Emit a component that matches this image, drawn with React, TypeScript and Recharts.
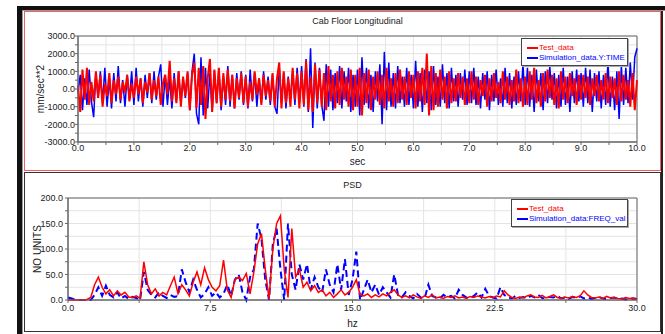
import React from 'react';
import { LineChart, Line, XAxis, YAxis, CartesianGrid, ReferenceArea } from 'recharts';

// ---------- Data ----------
const TIME_STEP = 0.04; // sample spacing of the time records (sec)

const TEST_TIME = [
  200, -1300, 1100, -600, 1200, -900, 400, -700, 1000, -500, 800, -1000, 300, -400, 900, -800, 500, -300, 700, -600, 400, -200, 800, -700, 300,
  -500, 700, -300, 600, -800, 400, -200, 900, -600, 500, -400, 700, -900, 300, 800, -300, 1600, -700, 600, -800, 1000, -1000, 700, -400, 1000,
  -1200, 800, 1500, -1100, 1200, -900, 1300, -1700, 600, 1700, -1300, 1100, -800, 1200, -1000, 900, -600, 1100, -700, 800, -1100, 600, -500, 900, -800,
  700, -1000, 400, -600, 1000, -300, 600, -900, 800, -400, 500, -700, 900, -1000, 600, 1500, -1100, 1000, -800, 600, -1000, 1200, -600, 900, -1100,
  1000, -900, 1600, -1200, 700, -1300, 1400, -800, 1100, -1000, 900, -1200, 1300, -700, 800, -1100, 1000, -900, 1200, -600, 700, -1000, 1100, -1200, 800,
  -1000, 1200, -1500, 900, -800, 1100, -1200, 700, -600, 1000, -900, 800, -1100, 1200, -700, 600, -1000, 900, -800, 1100, -600, 700, -900, 1000, -500,
  800, -1100, 1000, -700, 1200, -900, 2000, -1500, 1300, -1200, 900, -1000, 1100, -600, 700, -1100, 1000, -800, 600, -700, 900, -500, 700, -900, 600,
  -800, 1000, -600, 700, -900, 500, -400, 800, -1000, 600, -700, 900, -500, 400, -800, 1000, -600, 700, -900, 500, -700, 1100, -800, 600, -1000,
  700, -900, 1000, -600, 1200, -800, 500, -1000, 900, -700, 1100, -500, 800, -900, 600, -1100, 1000, -600, 700, -800, 900, -400, 600, -900, 800,
  -600, 800, -500, 700, -900, 600, -400, 800, -700, 500, -600, 900, -800, 700, -500, 600, -900, 1000, -700, 800, -600, 500, -1000, 900, -1200,
  500,
];

const SIM_TIME = [
  -200, 800, -1200, 600, -900, 1100, -700, -1600, 900, -500, 1000, -800, 1200, -1000, 600, -1100, 900, -700, 1300, -800, 500, -1000, 800, -600, 1000,
  -900, 1200, -700, 600, -1000, 800, -500, 900, -800, 1000, -600, 700, 1400, -1000, 800, -900, 600, -1100, 900, -700, 1000, -800, 600, -500, 900,
  -1200, 1000, 2000, -1400, -2000, 1800, -1500, 1200, -1100, 900, -1300, 1000, -800, 1100, -1200, 700, -900, 1300, -1000, 800, -1100, 900, -600, 1000, -900,
  800, -1100, 1100, -700, 900, -1000, 600, -800, 1000, -600, 700, -900, 800, -1000, -1400, 1200, -800, 900, -1100, 700, -600, 1000, -900, 1200, -800,
  1300, -1000, 1700, -1300, 2300, -2200, 1500, -1100, 1200, -900, -1800, 1400, -1000, 1100, -1200, 900, -800, 1300, -1100, 1000, -700, 1200, -1300, 800, -1000,
  1100, -1500, 1800, -900, 1200, -1100, 800, -1300, 1000, -700, 1400, -2000, 2100, -1200, 1500, -1000, 900, -1100, 1300, -800, 700, -1000, 1200, -900, 800,
  -1100, 1600, -1000, 900, -1300, 1100, -800, 1000, -1200, 1300, -900, 700, -1000, 1400, -800, 900, -1100, 1200, -700, 800, -1000, 900, -600, 1100, -900,
  1000, -800, 1200, -900, 700, -1100, 900, -600, 1000, -1200, 800, -700, 1100, -900, 600, -1000, 1200, -800, 900, -1100, 700, -900, 1000, -700, 1400,
  -900, 1200, -1000, 800, -1300, 1100, -700, 900, -1200, 1000, -800, 1300, -600, 900, -1100, 800, -1000, 1200, -900, 700, -1300, 1000, -800, 1100, -700,
  900, -1000, 1200, -800, 1100, -1300, 900, -700, 1000, -1100, 800, -900, 1500, -1000, 700, -1200, 1000, -1700, 1300, -900, 1200, -800, 1500, -600, 1800,
  2300,
];

const FREQ_STEP = 0.2; // spectral line spacing (hz)

const PSD_TEST = [
  0, 0, 0, 0, 0, 1, 5, 30, 45, 25,
  12, 20, 8, 18, 10, 15, 6, 5, 8, 3,
  75, 30, 12, 22, 8, 15, 10, 28, 45, 12,
  30, 20, 8, 35, 55, 30, 63, 40, 25, 18,
  28, 78, 20, 5, 40, 45, 38, 52, 12, 55,
  110, 130, 60, 2, 100, 150, 165, 60, 5, 140,
  45, 60, 25, 35, 18, 28, 15, 20, 8, 15,
  5, 12, 20, 10, 15, 25, 40, 10, 8, 12,
  5, 10, 6, 12, 8, 15, 20, 10, 5, 8,
  4, 10, 6, 3, 8, 5, 10, 4, 6, 3,
  7, 5, 8, 4, 6, 3, 7, 5, 8, 6,
  4, 7, 5, 8, 6, 18, 10, 5, 3, 6,
  4, 8, 10, 6, 5, 9, 4, 7, 10, 5,
  3, 6, 4, 7, 5, 8, 18, 10, 5, 4,
  6, 3, 7, 4, 5, 3, 2, 5, 3, 4,
  2,
];

const PSD_SIM = [
  5, 3, 0, 0, 0, 0, 0, 10, 25, 8,
  28, 10, 5, 15, 3, 8, 2, 6, 4, 0,
  55, 20, 10, 5, 15, 8, 4, 10, 6, 8,
  60, 35, 15, 40, 20, 5, 12, 25, 8, 15,
  5, 12, 30, 8, 40, 50, 15, 0, 45, 60,
  150, 120, 40, 0, 110, 140, 60, 0, 150, 50,
  20, 70, 40, 70, 20, 45, 25, 15, 60, 30,
  15, 70, 20, 80, 10, 40, 95, 0, 20, 40,
  15, 30, 10, 25, 15, 5, 50, 10, 5, 15,
  8, 3, 12, 5, 3, 30, 8, 5, 3, 10,
  5, 8, 3, 20, 10, 5, 3, 8, 15, 5,
  22, 8, 5, 3, 25, 10, 5, 3, 8, 4,
  6, 3, 8, 5, 10, 4, 3, 6, 5, 8,
  3, 5, 2, 6, 4, 7, 3, 5, 2, 4,
  6, 3, 2, 4, 5, 2, 3, 1, 2, 3,
  2,
];

const TIME_X_TICKS = [0, 0.5, 1, 1.5, 2, 2.5, 3, 3.5, 4, 4.5, 5, 5.5, 6, 6.5, 7, 7.5, 8, 8.5, 9, 9.5, 10];
const TIME_Y_TICKS = [-3000, -2500, -2000, -1500, -1000, -500, 0, 500, 1000, 1500, 2000, 2500, 3000];
const FREQ_X_TICKS = [0, 3.75, 7.5, 11.25, 15, 18.75, 22.5, 26.25, 30];
const PSD_Y_TICKS = [0, 25, 50, 75, 100, 125, 150, 175, 200];

const TEST_NAME = 'Test_data';
const SIM_TIME_NAME = 'Simulation_data.Y:TIME';
const SIM_PSD_NAME = 'Simulation_data:FREQ_val';

const timeRows = TEST_TIME.map((v, i) => ({
  t: +(i * TIME_STEP).toFixed(2),
  test: v,
  sim: SIM_TIME[i],
}));

const psdRows = PSD_TEST.map((v, i) => ({
  f: +(i * FREQ_STEP).toFixed(2),
  test: v,
  sim: PSD_SIM[i],
}));

const FONT = '"Liberation Sans", Arial, Helvetica, sans-serif';
const RED = '#ff0000';
const BLUE = '#0000ff';
const TEXT = '#222';
const GRID = '#e3e3e3';
const AXIS = '#666';

const majorFmt = (step: number) => (v: number) =>
  Math.abs(v / step - Math.round(v / step)) < 1e-6 ? v.toFixed(1) : '';

function LegendBox({ items, style }: { items: { label: string; color: string }[]; style: React.CSSProperties }) {
  return (
    <div
      style={{
        position: 'absolute',
        boxSizing: 'border-box',
        border: '1px solid #444',
        boxShadow: '1px 1px 0 #aaa',
        background: '#fff',
        padding: '4px 0 0 5px',
        fontFamily: FONT,
        fontSize: 8,
        lineHeight: '10px',
        ...style,
      }}
    >
      {items.map((it) => (
        <div key={it.label} style={{ display: 'flex', alignItems: 'center', color: it.color, whiteSpace: 'nowrap' }}>
          <span style={{ display: 'inline-block', width: 11, height: 2, background: it.color, marginRight: 1 }} />
          {it.label}
        </div>
      ))}
    </div>
  );
}

export default function App() {
  return (
    <div style={{ position: 'absolute', left: 0, top: 0, width: 665, height: 334, background: '#fff', fontFamily: FONT, overflow: 'hidden' }}>
      {/* outer window frame */}
      <div style={{ position: 'absolute', left: 17, top: 6, width: 648, height: 5, background: '#111' }} />
      <div style={{ position: 'absolute', left: 17, top: 6, width: 5, height: 328, background: '#111' }} />
      <div style={{ position: 'absolute', left: 22, top: 11, width: 1, height: 323, background: '#999' }} />
      <div style={{ position: 'absolute', left: 22, top: 10, width: 643, height: 1, background: '#999' }} />
      <div style={{ position: 'absolute', left: 661, top: 11, width: 2, height: 323, background: '#222' }} />

      {/* top panel */}
      <div style={{ position: 'absolute', left: 24, top: 11, width: 637, height: 160, boxSizing: 'border-box', border: '1px solid #f26060' }} />
      <div style={{ position: 'absolute', left: 24, top: 11, width: 636, height: 159 }}>
        <div style={{ position: 'absolute', left: 54, width: 559, top: 5, textAlign: 'center', fontSize: 9, lineHeight: '10px', color: TEXT }}>
          Cab Floor Longitudinal
        </div>
        <LineChart width={636} height={159} data={timeRows} margin={{ top: 25, right: 23, bottom: 0, left: 0 }}>
          <CartesianGrid stroke={GRID} />
          <XAxis
            type="number"
            dataKey="t"
            domain={[0, 10]}
            ticks={TIME_X_TICKS}
            interval={0}
            tickFormatter={majorFmt(1)}
            height={28}
            tickSize={3}
            tickMargin={0}
            stroke={AXIS}
            tick={{ fill: TEXT, fontSize: 9 }}
            label={{ value: 'sec', position: 'insideBottom', offset: 5, fill: TEXT, fontSize: 10 }}
          />
          <YAxis
            type="number"
            domain={[-3000, 3000]}
            ticks={TIME_Y_TICKS}
            interval={0}
            tickFormatter={majorFmt(1000)}
            width={54}
            tickSize={3}
            tickMargin={0}
            stroke={AXIS}
            tick={{ fill: TEXT, fontSize: 9 }}
            label={{ value: 'mm/sec**2', angle: -90, position: 'insideLeft', offset: 16, fill: TEXT, fontSize: 10, style: { textAnchor: 'middle' } }}
          />
          <ReferenceArea x1={0} x2={10} y1={-3000} y2={3000} fill="none" stroke={AXIS} strokeOpacity={1} />
          <Line dataKey="sim" name={SIM_TIME_NAME} type="linear" stroke={BLUE} strokeWidth={1.5} dot={false} isAnimationActive={false} />
          <Line dataKey="test" name={TEST_NAME} type="linear" stroke={RED} strokeWidth={2} dot={false} isAnimationActive={false} />
        </LineChart>
        <LegendBox
          style={{ left: 497, top: 27, width: 107, height: 28 }}
          items={[
            { label: TEST_NAME, color: RED },
            { label: SIM_TIME_NAME, color: BLUE },
          ]}
        />
      </div>

      {/* bottom panel */}
      <div style={{ position: 'absolute', left: 24, top: 172, width: 637, height: 160, boxSizing: 'border-box', border: '1px solid #333' }} />
      <div style={{ position: 'absolute', left: 24, top: 172, width: 636, height: 160 }}>
        <div style={{ position: 'absolute', left: 44, width: 569, top: 8, textAlign: 'center', fontSize: 9, lineHeight: '10px', color: TEXT }}>
          PSD
        </div>
        <LineChart width={636} height={160} data={psdRows} margin={{ top: 26, right: 23, bottom: 0, left: 0 }}>
          <CartesianGrid stroke={GRID} />
          <XAxis
            type="number"
            dataKey="f"
            domain={[0, 30]}
            ticks={FREQ_X_TICKS}
            interval={0}
            tickFormatter={majorFmt(7.5)}
            height={32}
            tickSize={3}
            tickMargin={2}
            stroke={AXIS}
            tick={{ fill: TEXT, fontSize: 9 }}
            label={{ value: 'hz', position: 'insideBottom', offset: 5, fill: TEXT, fontSize: 10 }}
          />
          <YAxis
            type="number"
            domain={[0, 200]}
            ticks={PSD_Y_TICKS}
            interval={0}
            tickFormatter={majorFmt(50)}
            width={44}
            tickSize={3}
            tickMargin={2}
            stroke={AXIS}
            tick={{ fill: TEXT, fontSize: 9 }}
            label={{ value: 'NO UNITS', angle: -90, position: 'insideLeft', offset: 13, fill: TEXT, fontSize: 10, style: { textAnchor: 'middle' } }}
          />
          <ReferenceArea x1={0} x2={30} y1={0} y2={200} fill="none" stroke={AXIS} strokeOpacity={1} />
          <Line dataKey="sim" name={SIM_PSD_NAME} type="linear" stroke={BLUE} strokeWidth={2} strokeDasharray="7 4" dot={false} isAnimationActive={false} />
          <Line dataKey="test" name={TEST_NAME} type="linear" stroke={RED} strokeWidth={1.5} dot={false} isAnimationActive={false} />
        </LineChart>
        <LegendBox
          style={{ left: 487, top: 27, width: 117, height: 28 }}
          items={[
            { label: TEST_NAME, color: RED },
            { label: SIM_PSD_NAME, color: BLUE },
          ]}
        />
      </div>
    </div>
  );
}
